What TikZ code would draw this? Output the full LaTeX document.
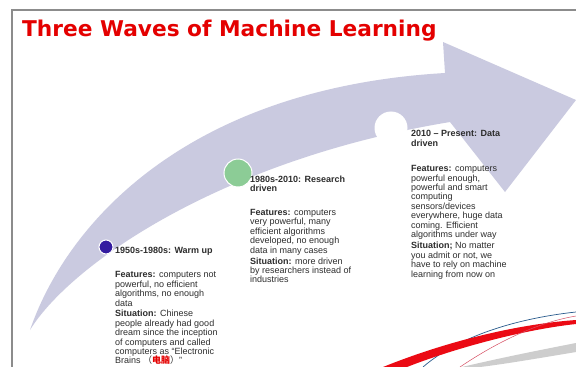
\documentclass[tikz,border=0pt]{standalone}
\usepackage{fontspec}
\setmainfont{Liberation Sans}
\newfontfamily\titlefont{DejaVu Sans}
\newfontfamily\cjk{Noto Sans CJK SC}
\definecolor{arrowfill}{RGB}{202,202,224}
\definecolor{framegray}{RGB}{140,140,140}
\definecolor{titlered}{RGB}{228,0,0}
\definecolor{bodytext}{RGB}{45,45,45}
\definecolor{dotpurple}{RGB}{52,28,160}
\definecolor{dotgreen}{RGB}{140,204,150}
\definecolor{swooshblue}{RGB}{40,90,140}
\definecolor{swooshred}{RGB}{235,10,20}
\definecolor{swooshpink}{RGB}{215,80,100}
\definecolor{swooshgray}{RGB}{205,205,205}
\tikzset{
  era/.style={anchor=north west, inner sep=0pt, align=left, text=bodytext,
    font=\fontsize{9}{9.4}\selectfont},
  milestone/.style={circle, draw=white, line width=1pt, inner sep=0pt},
}
\begin{document}
\begin{tikzpicture}[x=1pt,y=-1pt]
\useasboundingbox (0,0) rectangle (576,367);
\fill[white] (0,0) rectangle (576,367);

% slide frame
\draw[framegray, line width=1.2pt] (12,367) -- (12,10) -- (576,10);

% title
\node[anchor=base west, inner sep=0pt, text=titlered,
      font=\titlefont\bfseries\fontsize{21.7}{25}\selectfont] (title) at (22,36)
      {Three Waves of Machine Learning};

% decorative swooshes in the lower right corner
\fill[swooshgray] (462,367) .. controls (500,358) and (540,350) .. (576,343)
  -- (576,352) .. controls (540,358) and (505,364) .. (480,367) -- cycle;
\draw[swooshblue, line width=0.7pt] (423,367) .. controls (460,335) and (520,318) .. (576,312);
\fill[swooshred] (383,367) .. controls (450,340) and (520,324) .. (576,320)
  -- (576,324) .. controls (520,330) and (450,350) .. (407,367) -- cycle;
\draw[swooshpink, line width=0.5pt] (460,367) .. controls (500,340) and (540,322) .. (576,316);

% the curved arrow
\fill[arrowfill] (30,330) .. controls (68,220) and (190,88) .. (445,73)
  -- (443,42) -- (576,100) -- (505,192) -- (450,122)
  .. controls (220,160) and (70,265) .. (30,330) -- cycle;

% milestones on the arrow
\node[milestone, fill=dotpurple, minimum size=14pt] (m1) at (106,247) {};
\node[milestone, fill=dotgreen, minimum size=28pt] (m2) at (238,173) {};
\node[milestone, fill=white, minimum size=32pt] (m3) at (391,128) {};

% era descriptions
\node[era] (e1) at (115,247.5) {%
  \textbf{1950s-1980s: Warm up}\\[14.5pt]
  \textbf{Features:} computers not\\
  powerful, no efficient\\
  algorithms, no enough\\
  data\\[1.5pt]
  \textbf{Situation:} Chinese\\
  people already had good\\
  dream since the inception\\
  of computers and called\\
  computers as ``Electronic\\
  Brains \smash{\cjk （\textcolor{titlered}{\textbf{电脑}}）}''};

\node[era] (e2) at (250,175.5) {%
  \textbf{1980s-2010: Research}\\
  \textbf{driven}\\[14.5pt]
  \textbf{Features:} computers\\
  very powerful, many\\
  efficient algorithms\\
  developed, no enough\\
  data in many cases\\[1.5pt]
  \textbf{Situation:} more driven\\
  by researchers instead of\\
  industries};

\node[era] (e3) at (411,130.5) {%
  \textbf{2010 -- Present: Data}\\
  \textbf{driven}\\[16pt]
  \textbf{Features:} computers\\
  powerful enough,\\
  powerful and smart\\
  computing\\
  sensors/devices\\
  everywhere, huge data\\
  coming. Efficient\\
  algorithms under way\\[2pt]
  \textbf{Situation;} No matter\\
  you admit or not, we\\
  have to rely on machine\\
  learning from now on};
\end{tikzpicture}
\end{document}
